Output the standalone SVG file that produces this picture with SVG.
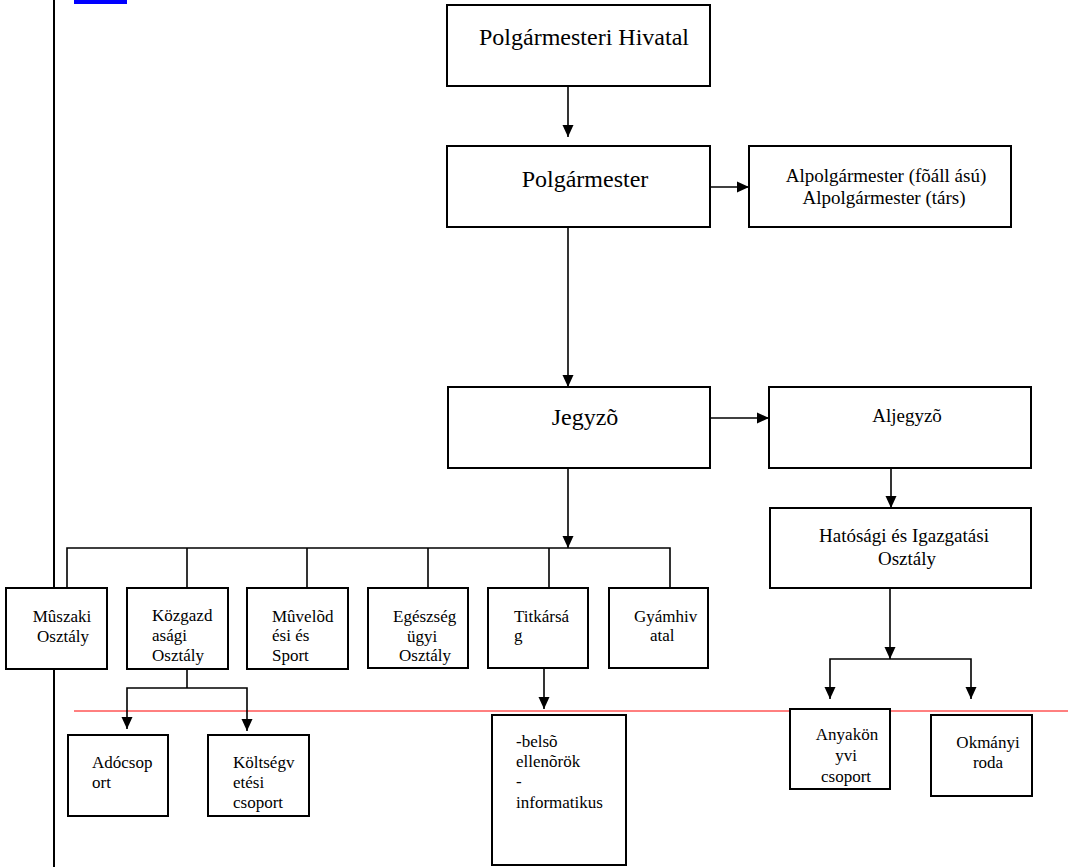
<svg xmlns="http://www.w3.org/2000/svg" width="1068" height="867" viewBox="0 0 1068 867">
<style>
.box{fill:#fff;stroke:#000;stroke-width:2}
.ln{fill:none;stroke:#000;stroke-width:1.6}
.arr{fill:none;stroke:#000;stroke-width:1.6;marker-end:url(#ah)}
text{font-family:"Liberation Serif","Times New Roman",serif;fill:#000}
.t24{font-size:24px;text-anchor:middle}
.t19{font-size:19px;text-anchor:middle}
.t17{font-size:17px}
.m{text-anchor:middle}
</style>
<defs>
<marker id="ah" markerUnits="userSpaceOnUse" markerWidth="12" markerHeight="12" viewBox="0 0 12 12" refX="12" refY="6" orient="auto">
<path d="M0,0.5 L12,6 L0,11.5 z" fill="#000"/>
</marker>
</defs>
<rect x="0" y="0" width="1068" height="867" fill="#fff"/>
<rect x="74" y="0" width="53" height="4" fill="#0000ff"/>
<line x1="54" y1="0" x2="54" y2="867" stroke="#000" stroke-width="2"/>
<line x1="74" y1="711" x2="1068" y2="711" stroke="#ff0000" stroke-width="1"/>
<g id="connectors">
<line class="arr" x1="568" y1="86" x2="568" y2="137"/>
<line class="arr" x1="710" y1="187" x2="749" y2="187"/>
<line class="arr" x1="568" y1="227" x2="568" y2="387"/>
<line class="arr" x1="710" y1="418" x2="769" y2="418"/>
<line class="arr" x1="891" y1="468" x2="891" y2="508"/>
<line class="arr" x1="568" y1="468" x2="568" y2="548"/>
<polyline class="ln" points="67,588 67,548 670,548 670,588"/>
<line class="ln" x1="187" y1="548" x2="187" y2="588"/>
<line class="ln" x1="307" y1="548" x2="307" y2="588"/>
<line class="ln" x1="428" y1="548" x2="428" y2="588"/>
<line class="ln" x1="549" y1="548" x2="549" y2="588"/>
<line class="ln" x1="187" y1="669" x2="187" y2="688"/>
<polyline class="arr" points="187,688 127,688 127,729"/>
<polyline class="arr" points="187,688 247,688 247,731"/>
<line class="arr" x1="544" y1="668" x2="544" y2="709"/>
<line class="arr" x1="890" y1="588" x2="890" y2="659"/>
<polyline class="arr" points="890,659 830,659 830,699"/>
<polyline class="arr" points="890,659 971,659 971,699"/>
</g>
<g id="hivatal">
<rect class="box" x="447" y="5" width="263" height="81"/>
<text class="t24" x="584" y="45">Polgármesteri Hivatal</text>
</g>
<g id="polgarmester">
<rect class="box" x="447" y="146" width="263" height="81"/>
<text class="t24" x="585" y="187">Polgármester</text>
</g>
<g id="alpolgarmester">
<rect class="box" x="749" y="146" width="262" height="81"/>
<text class="t19" x="886" y="182">Alpolgármester (fõáll ású)</text>
<text class="t19" x="884" y="204">Alpolgármester (társ)</text>
</g>
<g id="jegyzo">
<rect class="box" x="448" y="387" width="262" height="81"/>
<text class="t24" x="585" y="425">Jegyzõ</text>
</g>
<g id="aljegyzo">
<rect class="box" x="769" y="387" width="262" height="81"/>
<text class="t19" x="907" y="422">Aljegyzõ</text>
</g>
<g id="hatosagi">
<rect class="box" x="770" y="508" width="261" height="80"/>
<text class="t19" x="904" y="542">Hatósági és Igazgatási</text>
<text class="t19" x="907" y="565">Osztály</text>
</g>
<g id="muszaki">
<rect class="box" x="6" y="588" width="101" height="81"/>
<text class="t17 m" x="62" y="622">Mûszaki</text>
<text class="t17 m" x="63" y="642">Osztály</text>
</g>
<g id="kozgazdasagi">
<rect class="box" x="127" y="588" width="101" height="81"/>
<text class="t17" x="152" y="621">Közgazd</text>
<text class="t17" x="152" y="641">asági</text>
<text class="t17" x="152" y="661">Osztály</text>
</g>
<g id="muvelodesi">
<rect class="box" x="247" y="588" width="101" height="81"/>
<text class="t17" x="272" y="622">Mûvelõd</text>
<text class="t17" x="272" y="641">ési és</text>
<text class="t17" x="272" y="661">Sport</text>
</g>
<g id="egeszsegugyi">
<rect class="box" x="368" y="588" width="100" height="80"/>
<text class="t17" x="393" y="622">Egészség</text>
<text class="t17" x="407" y="642">ügyi</text>
<text class="t17" x="399" y="661">Osztály</text>
</g>
<g id="titkarsag">
<rect class="box" x="488" y="588" width="100" height="80"/>
<text class="t17" x="514" y="622">Titkársá</text>
<text class="t17" x="514" y="641">g</text>
</g>
<g id="gyamhivatal">
<rect class="box" x="609" y="588" width="99" height="80"/>
<text class="t17" x="634" y="622">Gyámhiv</text>
<text class="t17" x="650" y="641">atal</text>
</g>
<g id="adocsoport">
<rect class="box" x="68" y="735" width="100" height="81"/>
<text class="t17" x="92" y="768">Adócsop</text>
<text class="t17" x="92" y="788">ort</text>
</g>
<g id="koltsegvetesi">
<rect class="box" x="208" y="735" width="101" height="81"/>
<text class="t17" x="233" y="768">Költségv</text>
<text class="t17" x="233" y="788">etési</text>
<text class="t17" x="233" y="808">csoport</text>
</g>
<g id="belso">
<rect class="box" x="492" y="715" width="134" height="150"/>
<text class="t17" x="516" y="747">-belsõ</text>
<text class="t17" x="516" y="767">ellenõrök</text>
<text class="t17" x="516" y="787">-</text>
<text class="t17" x="516" y="808">informatikus</text>
</g>
<g id="anyakonyvi">
<rect class="box" x="790" y="709" width="100" height="80"/>
<text class="t17 m" x="847" y="740">Anyakön</text>
<text class="t17 m" x="846" y="761">yvi</text>
<text class="t17 m" x="846" y="782">csoport</text>
</g>
<g id="okmanyi">
<rect class="box" x="931" y="715" width="101" height="81"/>
<text class="t17 m" x="988" y="748">Okmányi</text>
<text class="t17 m" x="988" y="768">roda</text>
</g>
</svg>
